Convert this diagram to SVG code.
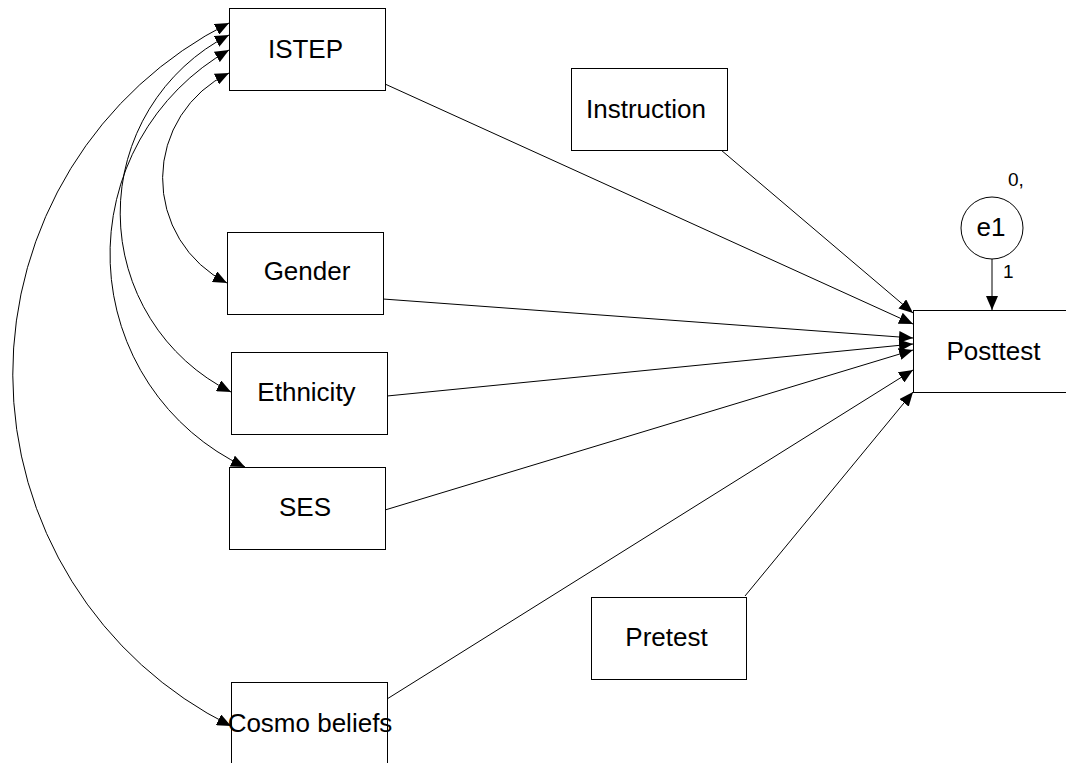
<svg xmlns="http://www.w3.org/2000/svg" width="1066" height="763" viewBox="0 0 1066 763">
<style>
  .box { fill: #fff; stroke: #000; stroke-width: 1; }
  .lbl { font-family: "Liberation Sans", Arial, sans-serif; font-size: 26px; fill: #000; text-anchor: middle; }
  .sm { font-family: "Liberation Sans", Arial, sans-serif; font-size: 19px; fill: #000; }
  .conn { fill: none; stroke: #000; stroke-width: 1; }
  .one { marker-end: url(#ah); }
  .two { marker-start: url(#ah); marker-end: url(#ah); }
</style>
<defs>
  <marker id="ah" markerUnits="userSpaceOnUse" markerWidth="14" markerHeight="12" refX="14" refY="6" orient="auto-start-reverse">
    <path d="M0,0 L14,6 L0,12 z" fill="#000"/>
  </marker>
</defs>
<rect width="1066" height="763" fill="#fff"/>

<g id="connectors">
  <line class="conn one" x1="385" y1="84" x2="913" y2="324"/>
  <line class="conn one" x1="721" y1="150" x2="913" y2="313"/>
  <line class="conn one" x1="383" y1="299" x2="913" y2="338"/>
  <line class="conn one" x1="387" y1="396" x2="913" y2="344"/>
  <line class="conn one" x1="385" y1="510" x2="913" y2="350"/>
  <line class="conn one" x1="387" y1="699" x2="913" y2="370"/>
  <line class="conn one" x1="745" y1="596" x2="913" y2="392"/>
  <line class="conn one" x1="992" y1="259" x2="992" y2="310"/>
  <path class="conn two" d="M229,73 A117,117 0 0 0 227,283"/>
  <path class="conn two" d="M229,35 A200,200 0 0 0 231,392"/>
  <path class="conn two" d="M229,50 A235,235 0 0 0 245,467"/>
  <path class="conn two" d="M229,23 A393,393 0 0 0 231,726"/>
</g>

<g id="ISTEP">
  <rect class="box" x="229.5" y="8.5" width="156" height="82"/>
  <text class="lbl" x="305.5" y="58">ISTEP</text>
</g>
<g id="Instruction">
  <rect class="box" x="571.5" y="68.5" width="156" height="82"/>
  <text class="lbl" x="646" y="118">Instruction</text>
</g>
<g id="Gender">
  <rect class="box" x="227.5" y="232.5" width="156" height="82"/>
  <text class="lbl" x="307" y="280">Gender</text>
</g>
<g id="Ethnicity">
  <rect class="box" x="231.5" y="352.5" width="156" height="82"/>
  <text class="lbl" x="306.5" y="401">Ethnicity</text>
</g>
<g id="SES">
  <rect class="box" x="229.5" y="467.5" width="156" height="82"/>
  <text class="lbl" x="305" y="516">SES</text>
</g>
<g id="Cosmo">
  <rect class="box" x="231.5" y="682.5" width="156" height="82"/>
  <text class="lbl" x="310" y="732">Cosmo beliefs</text>
</g>
<g id="Pretest">
  <rect class="box" x="591.5" y="597.5" width="155" height="82"/>
  <text class="lbl" x="666.5" y="646">Pretest</text>
</g>
<g id="Posttest">
  <rect class="box" x="913.5" y="310.5" width="160" height="82"/>
  <text class="lbl" x="993.5" y="360">Posttest</text>
</g>
<g id="e1">
  <circle cx="992" cy="228" r="31" fill="#fff" stroke="#000" stroke-width="1"/>
  <text class="lbl" x="991" y="236">e1</text>
  <text class="sm" x="1008" y="186">0,</text>
  <text class="sm" x="1003" y="278">1</text>
</g>
</svg>
